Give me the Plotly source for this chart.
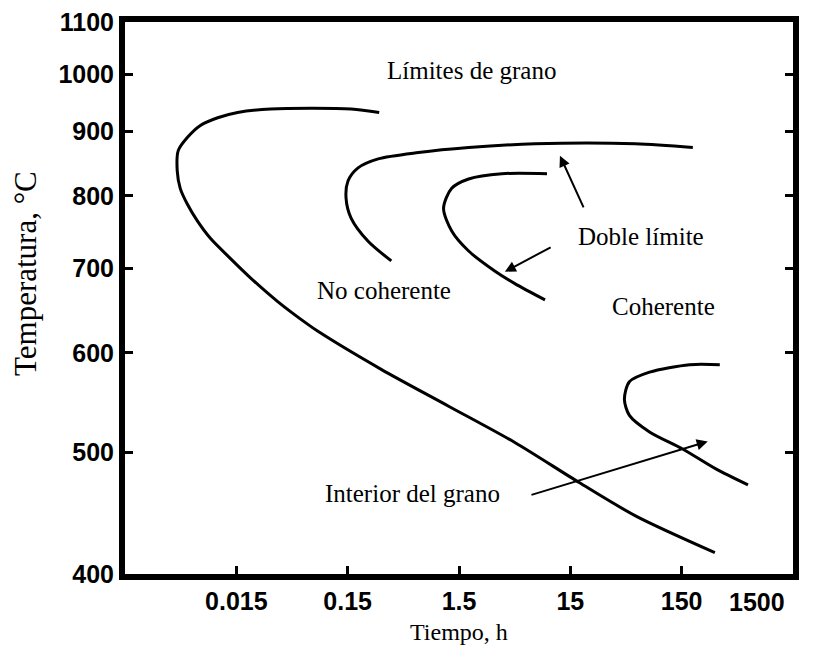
import math
import plotly.graph_objects as go

# ---- data (time in h, temperature in °C) ----
c1_time = [0.288, 0.161, 0.0305, 0.0154, 0.0102, 0.00713, 0.00544, 0.00451, 0.00442,
           0.0047, 0.00544, 0.0067, 0.00877, 0.0133, 0.0202, 0.0353, 0.0659, 0.0811,
           0.300, 1.21, 4.76, 18.0, 57.7, 298]
c1_temp = [932, 938, 938, 932, 923, 910, 890, 869, 837, 811, 788, 764, 740, 713, 688,
           659, 632, 624, 582, 544, 509, 473, 445, 416]

c2_time = [0.37, 0.229, 0.161, 0.145, 0.151, 0.186, 0.282, 0.648, 1.83, 7.22, 57.7, 189]
c2_temp = [710, 736, 768, 797, 822, 842, 856, 866, 874, 880, 880, 874]

c3_time = [8.89, 4.76, 3.14, 1.83, 1.29, 1.09, 1.29, 1.83, 3.64, 9.26]
c3_temp = [661, 681, 697, 723, 750, 782, 811, 825, 833, 833]

c4_time = [591, 304, 153, 77.2, 50.9, 45.9, 50.9, 77.2, 177, 330]
c4_temp = [471, 485, 503, 519, 535, 551, 569, 579, 587, 587]

x_ticks = [0.015, 0.15, 1.5, 15, 150]
x_ticktext = ["0.015", "0.15", "1.5", "15", "150"]
x_last_tick = "1500"
y_ticks = [400, 500, 600, 700, 800, 900, 1000, 1100]

labels = [
    ("Límites de grano", 1.95, 1001),
    ("Doble límite", 65.3, 739),
    ("No coherente", 0.32, 669),
    ("Coherente", 103, 649),
    ("Interior del grano", 0.572, 461),
]
# arrows: (head_time, head_temp, tail_time, tail_temp)
arrows = [
    (12.1, 861, 20.0, 781),
    (3.87, 696, 10.3, 729),
    (257, 510, 6.51, 462),
]

fig = go.Figure()
for t, T in [(c1_time, c1_temp), (c2_time, c2_temp), (c3_time, c3_temp), (c4_time, c4_temp)]:
    fig.add_trace(go.Scatter(x=t, y=T, mode="lines",
                             line=dict(color="black", width=3, shape="spline", smoothing=0.8),
                             hoverinfo="skip", showlegend=False))

serif = "Liberation Serif, Times New Roman, serif"
sans = "Liberation Sans, Arial, sans-serif"

ann = []
for txt, t, T in labels:
    ann.append(dict(text=txt, x=math.log10(t), y=math.log10(T), xref="x", yref="y",
                    yshift=3, showarrow=False,
                    font=dict(family=serif, size=25, color="black")))
for ht, hT, tt, tT in arrows:
    ann.append(dict(text="", x=math.log10(ht), y=math.log10(hT),
                    ax=math.log10(tt), ay=math.log10(tT), xref="x", yref="y",
                    axref="x", ayref="y", showarrow=True, arrowhead=2, arrowsize=1.1,
                    arrowwidth=2, arrowcolor="black"))
ann.append(dict(text=x_last_tick, x=math.log10(1500), y=0, xref="x", yref="paper",
                xanchor="right", yanchor="top", yshift=-12, xshift=-6, showarrow=False,
                font=dict(family=sans, size=25, color="black", weight="bold")))
ann.append(dict(text="Tiempo, h", x=0.5, y=0, xref="paper", yref="paper",
                xanchor="center", yanchor="top", yshift=-43, showarrow=False,
                font=dict(family=serif, size=24, color="black")))
ann.append(dict(text="Temperatura, °C", x=0, y=0.5435, xref="paper", yref="paper",
                xanchor="center", yanchor="middle", xshift=-99, textangle=-90,
                showarrow=False, font=dict(family=serif, size=31, color="black")))

tick_font = dict(family=sans, size=25, color="black", weight="bold")

fig.update_layout(
    width=808, height=645,
    margin=dict(l=117, r=23, t=14, b=79, autoexpand=False),
    paper_bgcolor="white", plot_bgcolor="white",
    annotations=ann,
    xaxis=dict(type="log", range=[math.log10(0.0015), math.log10(1500)],
               tickvals=x_ticks, ticktext=x_ticktext, ticks="inside", ticklen=8,
               tickwidth=3, tickcolor="black", showline=True, linewidth=6,
               linecolor="black", mirror=True, showgrid=False, zeroline=False,
               automargin=False, ticklabeloverflow="allow", tickfont=tick_font),
    yaxis=dict(type="log", range=[math.log10(400), math.log10(1100)],
               tickvals=y_ticks, ticktext=[str(v) for v in y_ticks], ticks="inside",
               ticklen=8, tickwidth=3, tickcolor="black", showline=True, linewidth=6,
               linecolor="black", mirror="ticks", showgrid=False, zeroline=False,
               automargin=False, ticklabeloverflow="allow", tickfont=tick_font),
)

fig.write_html("out.html")
